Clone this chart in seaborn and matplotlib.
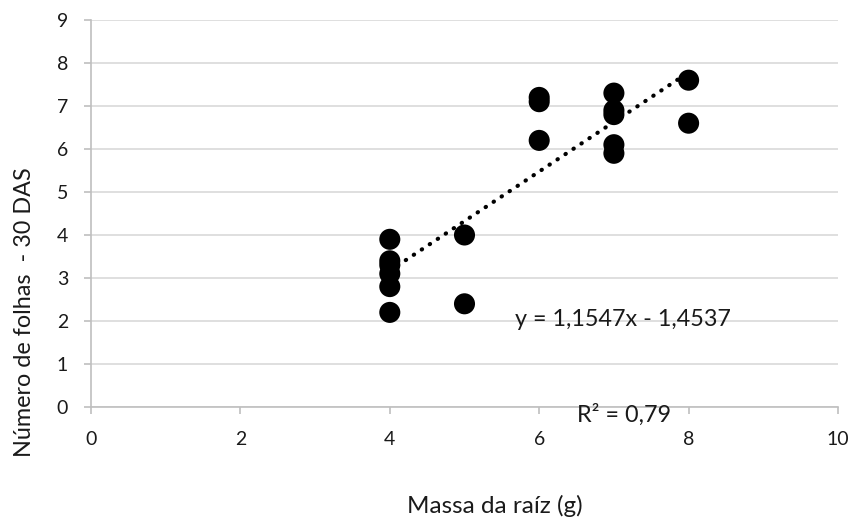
import matplotlib
matplotlib.use("Agg")
import matplotlib.pyplot as plt
import seaborn as sns
import pandas as pd

massa = [4, 4, 4, 4, 4, 4, 5, 5, 6, 6, 6, 7, 7, 7, 7, 7, 8, 8]
folhas = [3.9, 3.4, 3.3, 3.1, 2.8, 2.2, 4.0, 2.4, 7.2, 7.1, 6.2, 7.3, 6.9, 6.8, 6.1, 5.9, 7.6, 6.6]
x_ticks = [0, 2, 4, 6, 8, 10]
y_ticks = [0, 1, 2, 3, 4, 5, 6, 7, 8, 9]
eq_text = "y = 1,1547x - 1,4537"
r2_text = "R² = 0,79"

df = pd.DataFrame({"massa": massa, "folhas": folhas})

sns.set_style("white")
plt.rcParams["font.family"] = ["Lato", "DejaVu Sans"]

TXT = "#1a1a1a"
fig = plt.figure(figsize=(8.55, 5.23), dpi=100)
ax = fig.add_axes([91 / 855, 1 - 407 / 523, (838 - 91) / 855, (407 - 20) / 523])

sns.regplot(data=df, x="massa", y="folhas", ax=ax, ci=None,
            scatter_kws=dict(s=230, color="black", edgecolor="none", zorder=3, alpha=1),
            line_kws=dict(color="black", linestyle=(0, (0.1, 2.2)), linewidth=3,
                          dash_capstyle="round", zorder=4))

ax.set_xlim(0, 10)
ax.set_ylim(0, 9)
ax.set_xticks(x_ticks)
ax.set_yticks(y_ticks)
ax.set_xticklabels([str(t) for t in x_ticks], fontsize=14, color=TXT)
ax.set_yticklabels([str(t) for t in y_ticks], fontsize=14, color=TXT)
ax.grid(axis="y", color="#d9d9d9", linewidth=1.2)
ax.grid(axis="x", visible=False)
ax.set_axisbelow(True)

for s in ["top", "right"]:
    ax.spines[s].set_visible(False)
for s in ["left", "bottom"]:
    ax.spines[s].set_color("#bfbfbf")
    ax.spines[s].set_linewidth(1.2)
ax.tick_params(axis="both", which="both", direction="out", length=5, width=1.2,
               color="#bfbfbf", bottom=True, left=True)
ax.tick_params(axis="x", pad=12)
ax.tick_params(axis="y", pad=11.5)

ax.set_xlabel("")
ax.set_ylabel("")
fig.text(25 / 855, 1 - 312 / 523, "Número de folhas  - 30 DAS", rotation=90,
         ha="center", va="center", fontsize=16.8, color=TXT)
fig.text(495 / 855, 1 - 506 / 523, "Massa da raíz (g)", ha="center", va="center",
         fontsize=17.5, color=TXT)

ax.text(515 / 855, 1 - 319 / 523, eq_text, transform=fig.transFigure,
        ha="left", va="center", fontsize=16.8, color=TXT)
ax.text(577 / 855, 1 - 415 / 523, r2_text, transform=fig.transFigure,
        ha="left", va="center", fontsize=16.8, color=TXT)

fig.savefig("out.png", dpi=100)
